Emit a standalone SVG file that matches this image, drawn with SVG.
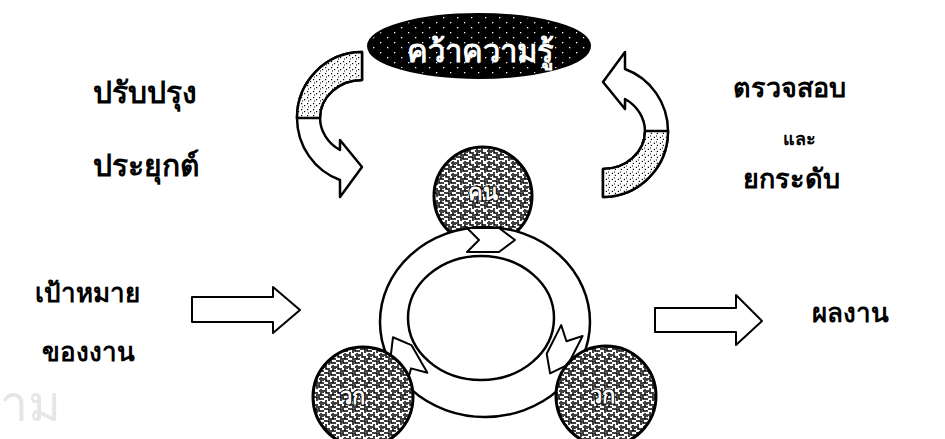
<svg xmlns="http://www.w3.org/2000/svg" width="945" height="439" viewBox="0 0 945 439">
<style>
 .t{font-family:"Noto Sans","DejaVu Sans",sans-serif;font-weight:bold;fill:#000}
 .ol{stroke:#000;stroke-width:2.5;stroke-linejoin:round}
 .lbl{font-family:"Noto Sans","DejaVu Sans",sans-serif;font-weight:bold;fill:#fff;stroke:#000;stroke-width:2;paint-order:stroke;text-anchor:middle}
</style>
<defs>
 <pattern id="stip" width="6" height="6" patternUnits="userSpaceOnUse">
  <rect width="6" height="6" fill="#fff"/>
  <rect x="1" y="1" width="1.2" height="1.2" fill="#000"/>
  <rect x="4" y="3" width="1.2" height="1.2" fill="#000"/>
  <rect x="2" y="4.5" width="1" height="1" fill="#000"/>
 </pattern>
 <pattern id="ovdots" width="14" height="10" patternUnits="userSpaceOnUse">
  <rect width="14" height="10" fill="#000"/>
  <rect x="2" y="2" width="1.3" height="1.3" fill="#fff"/>
  <rect x="9" y="7" width="1.3" height="1.3" fill="#fff"/>
 </pattern>
 <pattern id="maze" width="12" height="12" patternUnits="userSpaceOnUse">
  <rect width="12" height="12" fill="#fff"/>
  <path d="M0 1H5V5M7 0V3H12M2 4V9H6M9 5V11M0 7H1M4 11H12M11 6V9M7 7H8" stroke="#000" stroke-width="1.5" fill="none"/>
 </pattern>
 <path id="curl" d="M362 52 A65 66 0 0 0 297 118 A65 66 0 0 0 340 180 L340 197 L362 167 L340 140 L340 150 A42 38 0 0 1 320 118 A42 38 0 0 1 362 80 Z"/>
 <path id="curlTail" d="M362 52 A65 66 0 0 0 297 118 L320 118 A42 38 0 0 1 362 80 Z"/>
 <polygon id="chev" points="-24,-12 8,-12 24,0 8,12 -24,12 -12,0"/>
</defs>

<text x="0" y="421" style="font-family:'Noto Sans','DejaVu Sans',sans-serif;font-size:50px;fill:#e6e6e6">าม</text>

<g id="knowledge">
 <ellipse cx="479" cy="46" rx="111" ry="32" fill="url(#ovdots)" stroke="#000" stroke-width="2"/>
 <text x="480" y="62" text-anchor="middle" style="font-family:'Noto Sans','DejaVu Sans',sans-serif;font-weight:bold;font-size:31px;fill:#ffffff">คว้าความรู้</text>
</g>

<g id="improve">
 <text x="93" y="103" class="t" style="font-size:30px">ปรับปรุง</text>
 <text x="93" y="176" class="t" style="font-size:30px">ประยุกต์</text>
</g>

<g id="check">
 <text x="733" y="97" class="t" style="font-size:27px">ตรวจสอบ</text>
 <text x="783" y="145" class="t" style="font-size:18px">และ</text>
 <text x="743" y="188" class="t" style="font-size:27px">ยกระดับ</text>
</g>

<g id="goal">
 <text x="35" y="302" class="t" style="font-size:26px">เป้าหมาย</text>
 <text x="42" y="361" class="t" style="font-size:26px">ของงาน</text>
</g>

<g id="result">
 <text x="812" y="322" class="t" style="font-size:26px">ผลงาน</text>
</g>

<g id="cycle">
 <circle id="c-top" cx="483" cy="196" r="49" fill="url(#maze)" stroke="#000" stroke-width="3"/>
 <text x="483" y="200" class="lbl" style="font-size:22px">คน</text>
 <path d="M380 322 A105 95 0 1 0 590 322 A105 95 0 1 0 380 322 Z M408 318 A73 62 0 1 1 554 318 A73 62 0 1 1 408 318 Z" fill="#fff" fill-rule="evenodd" stroke="#000" stroke-width="2.5"/>
 <use href="#chev" transform="translate(491 240)" fill="#fff" class="ol" style="stroke-width:2"/>
 <use href="#chev" transform="translate(561 352) rotate(117)" fill="#fff" class="ol" style="stroke-width:2"/>
 <use href="#chev" transform="translate(405 358) rotate(240)" fill="#fff" class="ol" style="stroke-width:2"/>
 <circle id="c-left" cx="363" cy="397" r="50" fill="url(#maze)" stroke="#000" stroke-width="3"/>
 <text x="352" y="404" class="lbl" style="font-size:22px">วก</text>
 <circle id="c-right" cx="606" cy="396" r="50" fill="url(#maze)" stroke="#000" stroke-width="3"/>
 <text x="602" y="403" class="lbl" style="font-size:22px">วก</text>
</g>

<g id="connectors">
 <g id="arrow-improve">
  <use href="#curl" fill="#fff" class="ol"/>
  <use href="#curlTail" fill="url(#stip)" class="ol"/>
 </g>
 <g id="arrow-check" transform="rotate(180 482.5 124.5)">
  <use href="#curl" fill="#fff" class="ol"/>
  <use href="#curlTail" fill="url(#stip)" class="ol"/>
 </g>
 <polygon id="arrow-goal" points="192,297 273,297 273,287 300,310 273,333 273,322 192,322" fill="#fff" class="ol" style="stroke-width:2"/>
 <polygon id="arrow-result" points="655,308 736,308 736,295 762,321 736,345 736,332 655,332" fill="#fff" class="ol" style="stroke-width:2"/>
</g>
</svg>
